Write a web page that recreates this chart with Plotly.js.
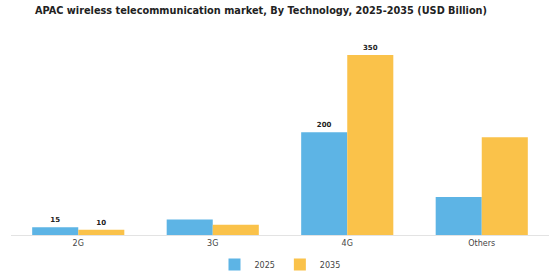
<!DOCTYPE html>
<html><head><meta charset="utf-8">
<script src="https://cdn.plot.ly/plotly-3.0.1.min.js"></script>
<style>body{margin:0;background:#fff}#c{width:560px;height:280px}</style>
</head><body><div id="c"></div>
<script>
const categories = ["2G", "3G", "4G", "Others"];
const values2025 = [15, 30, 200, 74];
const values2035 = [10, 20, 350, 190];
const labels2025 = ["15", "", "200", ""];
const labels2035 = ["10", "", "350", ""];

const textFont = {family: "DejaVu Sans", size: 7, color: "#222", weight: "bold"};
const data = [
  {type: "bar", name: "2025", x: categories, y: values2025, text: labels2025,
   textposition: "outside", textfont: textFont, cliponaxis: false,
   marker: {color: "#5DB4E5"}, hoverinfo: "none"},
  {type: "bar", name: "2035", x: categories, y: values2035, text: labels2035,
   textposition: "outside", textfont: textFont, cliponaxis: false,
   marker: {color: "#FAC24A"}, hoverinfo: "none"}
];
const layout = {
  width: 560, height: 280,
  margin: {l: 11, r: 11, t: 35, b: 45, autoexpand: false},
  paper_bgcolor: "#fff", plot_bgcolor: "#fff",
  title: {text: "<b>APAC wireless telecommunication market, By Technology, 2025-2035 (USD Billion)</b>",
          font: {family: "DejaVu Sans", size: 9.75, color: "#222"}, x: 0.466, xanchor: "center", y: 0.962, yanchor: "middle"},
  barmode: "group", bargap: 0.315, bargroupgap: 0,
  xaxis: {showline: true, linecolor: "#e3e3e3", linewidth: 1, ticks: "", showgrid: false,
          tickfont: {family: "DejaVu Sans", size: 8, color: "#444"}, automargin: false},
  yaxis: {visible: false, range: [0, 389], showgrid: false, zeroline: false},
  showlegend: true,
  legend: {orientation: "h", x: 0.5, xanchor: "center", yref: "container", y: 0.055, yanchor: "middle",
           itemwidth: 30, font: {family: "DejaVu Sans", size: 8, color: "#444"}}
};
Plotly.newPlot("c", data, layout, {displayModeBar: false, staticPlot: true});
</script></body></html>
